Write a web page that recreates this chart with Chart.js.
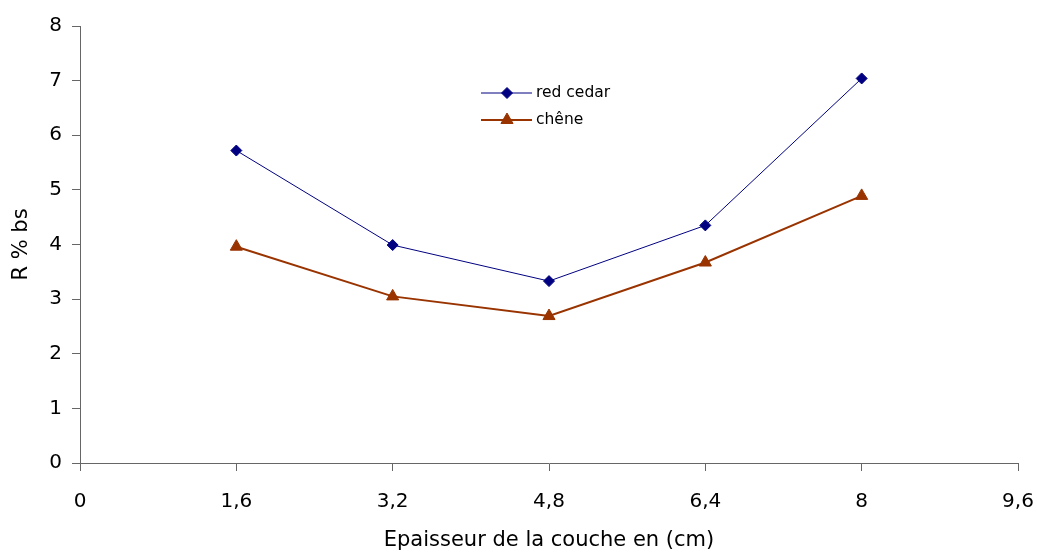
<!DOCTYPE html>
<html>
<head>
<meta charset="utf-8">
<script src="https://cdn.jsdelivr.net/npm/chart.js@4/dist/chart.umd.min.js"></script>
<style>
  html, body { margin: 0; padding: 0; background: #fff; }
  #wrap { width: 1037px; height: 554px; }
</style>
</head>
<body>
<div id="wrap"><canvas id="c" width="1037" height="554"></canvas></div>
<script>
const xValues = [1.6, 3.2, 4.8, 6.4, 8];
const redCedar = [5.72, 3.99, 3.33, 4.35, 7.04];
const chene = [3.96, 3.05, 2.69, 3.67, 4.89];
const xTickValues = [0, 1.6, 3.2, 4.8, 6.4, 8, 9.6];
const xTickLabels = ['0', '1,6', '3,2', '4,8', '6,4', '8', '9,6'];
const seriesNames = ['red cedar', 'chêne'];
const xTitle = 'Epaisseur de la couche en (cm)';
const yTitle = 'R % bs';

const FONT = '"DejaVu Sans", sans-serif';

function drawMarker(ctx, style, r, x, y) {
  if (style === 'rectRot') {
    ctx.moveTo(x - r, y); ctx.lineTo(x, y - r); ctx.lineTo(x + r, y); ctx.lineTo(x, y + r); ctx.closePath();
  } else {
    const a = 2 * Math.PI / 3;
    ctx.moveTo(x, y - r);
    ctx.lineTo(x + Math.sin(a) * r, y - Math.cos(a) * r);
    ctx.lineTo(x + Math.sin(2 * a) * r, y - Math.cos(2 * a) * r);
    ctx.closePath();
  }
}

const legendPlugin = {
  id: 'customLegend',
  afterDraw(chart) {
    const ctx = chart.ctx;
    const rows = [93, 120];
    chart.data.datasets.forEach((ds, i) => {
      const y = rows[i];
      ctx.save();
      ctx.strokeStyle = ds.borderColor;
      ctx.lineWidth = ds.borderWidth;
      ctx.beginPath();
      ctx.moveTo(481, y);
      ctx.lineTo(532, y);
      ctx.stroke();
      ctx.fillStyle = ds.pointBackgroundColor;
      ctx.strokeStyle = ds.pointBorderColor;
      ctx.lineWidth = 1;
      ctx.beginPath();
      drawMarker(ctx, ds.pointStyle, ds.pointRadius, 507, y);
      ctx.fill();
      ctx.stroke();
      ctx.fillStyle = '#000';
      ctx.font = '15.5px ' + FONT;
      ctx.textBaseline = 'middle';
      ctx.textAlign = 'left';
      ctx.fillText(ds.label, 536, y);
      ctx.restore();
    });
  }
};

new Chart(document.getElementById('c'), {
  type: 'line',
  data: {
    datasets: [
      {
        label: seriesNames[0],
        data: xValues.map((x, i) => ({ x: x, y: redCedar[i] })),
        borderColor: '#000080',
        backgroundColor: '#000080',
        pointBackgroundColor: '#000080',
        pointBorderColor: '#000080',
        borderWidth: 1,
        pointStyle: 'rectRot',
        pointRadius: 5.5,
        pointBorderWidth: 1,
        tension: 0
      },
      {
        label: seriesNames[1],
        data: xValues.map((x, i) => ({ x: x, y: chene[i] })),
        borderColor: '#993300',
        backgroundColor: '#993300',
        pointBackgroundColor: '#993300',
        pointBorderColor: '#993300',
        borderWidth: 2,
        pointStyle: 'triangle',
        pointRadius: 7,
        pointBorderWidth: 1,
        tension: 0
      }
    ]
  },
  options: {
    responsive: false,
    animation: false,
    layout: { padding: { top: 26, right: 19, left: 0, bottom: 0 } },
    plugins: { legend: { display: false }, tooltip: { enabled: false } },
    scales: {
      x: {
        type: 'linear',
        min: 0, max: 9.6,
        afterBuildTicks(scale) { scale.ticks = xTickValues.map(v => ({ value: v })); },
        afterFit(scale) { scale.height = 91; scale.paddingRight = 0; scale.paddingLeft = 0; },
        ticks: {
          callback: (v, i) => xTickLabels[i],
          font: { family: FONT, size: 20 },
          color: '#000',
          padding: 19,
          maxRotation: 0,
          autoSkip: false
        },
        grid: { display: true, drawOnChartArea: false, drawTicks: true, tickLength: 8, color: '#666', lineWidth: 1 },
        border: { display: true, color: '#666', width: 1 },
        title: { display: true, text: xTitle, font: { family: FONT, size: 21 }, color: '#000', padding: { top: 0, bottom: 1 } }
      },
      y: {
        type: 'linear',
        min: 0, max: 8,
        afterFit(scale) { scale.width = 80; scale.paddingTop = 0; scale.paddingBottom = 0; },
        ticks: {
          stepSize: 1,
          font: { family: FONT, size: 20 },
          color: '#000',
          padding: 10
        },
        grid: { display: true, drawOnChartArea: false, drawTicks: true, tickLength: 8, color: '#666', lineWidth: 1 },
        border: { display: true, color: '#666', width: 1 },
        title: { display: true, text: yTitle, font: { family: FONT, size: 21 }, color: '#000', padding: { top: 9, bottom: 0 } }
      }
    }
  },
  plugins: [legendPlugin]
});
</script>
</body>
</html>
